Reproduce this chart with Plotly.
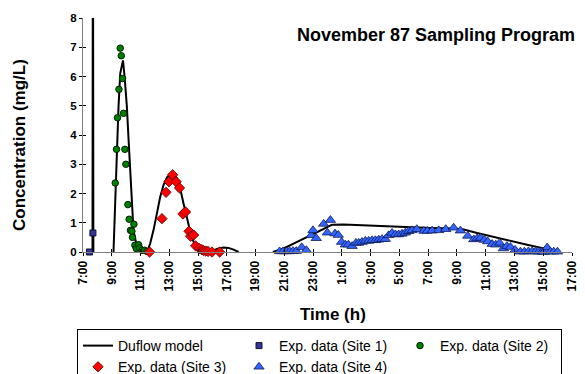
import plotly.graph_objects as go

# Time is given in hours from midnight of the first sampling day (25 = 1:00 next day)
model_h = [7.66, 7.69, 7.72, None,
           9.12, 9.24, 9.36, 9.47, 9.59, 9.78, 9.89, 10.05, 10.17, 10.28, 10.40,
           10.51, 10.70, 10.93, 11.21, 11.45, 11.67, 11.90, 12.14, 12.37, 12.60,
           12.84, 13.07, 13.30, 13.53, 13.76, 13.99, 14.23, 14.46, 14.69, 14.92,
           15.27, 15.62, 15.97, 16.31, 16.77, 17.12, 17.47, 17.82, None,
           20.20, 20.95, 21.64, 22.34, 23.03, 23.50, 23.97, 24.31, 25.12, 26.98,
           28.60, 30.46, 31.15, 32.77, 33.47, 34.40, 35.56, 36.72, 37.88, 38.81,
           39.50, 40.08]
model_c = [0.0, 14.0, 0.0, None,
           0.0, 1.77, 3.49, 4.97, 6.11, 6.55, 6.00, 4.97, 3.83, 2.69, 1.54,
           0.74, 0.29, 0.08, 0.0, 0.0, 0.29, 0.74, 1.32, 1.89, 2.29,
           2.55, 2.66, 2.66, 2.52, 2.17, 1.66, 1.14, 0.69, 0.34, 0.15,
           0.06, 0.03, 0.03, 0.10, 0.15, 0.14, 0.08, 0.0, None,
           0.0, 0.12, 0.29, 0.46, 0.63, 0.74, 0.86, 0.93, 0.94, 0.90,
           0.86, 0.84, 0.82, 0.80, 0.77, 0.65, 0.51, 0.38, 0.25, 0.15,
           0.08, 0.0]

site1_h = [7.45, 7.69]
site1_c = [0.0, 0.65]

site2_h = [9.24, 9.33, 9.40, 9.50, 9.59, 9.66, 9.75, 9.82, 9.91, 9.98, 10.12,
           10.21, 10.30, 10.40, 10.44, 10.54, 10.61, 10.70, 10.86, 10.93, 11.10,
           11.28, 11.45]
site2_c = [2.36, 3.51, 4.59, 5.56, 6.97, 6.71, 5.93, 4.74, 3.51, 3.00, 1.62,
           1.12, 0.74, 0.71, 0.50, 0.95, 0.23, 0.12, 0.25, 0.14, 0.06,
           0.06, 0.02]

site3_h = [11.63, 12.49, 12.77, 12.98, 13.23, 13.48, 13.71, 13.95, 14.13, 14.37,
           14.48, 14.69, 14.83, 15.10, 15.26, 15.38, 15.54, 15.69, 15.97, 16.50]
site3_c = [0.0, 1.14, 2.04, 2.40, 2.64, 2.40, 2.19, 1.30, 1.37, 0.71,
           0.54, 0.58, 0.21, 0.12, 0.08, 0.05, 0.03, 0.02, 0.0, 0.0]

site4_h = [20.67, 20.91, 21.14, 21.37, 21.60, 21.83, 22.21, 22.53, 22.87, 22.99,
           23.22, 23.73, 23.99, 24.20, 24.52, 24.75, 24.98, 25.24, 25.45, 25.71,
           25.98, 26.17, 26.40, 26.63, 26.86, 27.10, 27.33, 27.56, 27.79, 28.02,
           28.25, 28.49, 28.72, 28.95, 29.18, 29.41, 29.64, 29.88, 30.21, 30.70,
           30.94, 31.27, 31.73, 32.22, 32.77, 33.24, 33.75, 34.17, 34.40, 34.63,
           34.91, 35.14, 35.45, 35.70, 35.97, 36.23, 36.47, 36.72, 37.05, 37.41,
           37.69, 37.97, 38.23, 38.46, 38.69, 38.92, 39.03, 39.27, 39.50, 39.73,
           39.99]
site4_c = [0.02, 0.02, 0.02, 0.02, 0.03, 0.03, 0.16, 0.06, 0.57, 0.74,
           0.47, 0.96, 0.66, 1.09, 0.63, 0.58, 0.34, 0.25, 0.25, 0.20,
           0.31, 0.31, 0.34, 0.38, 0.38, 0.40, 0.40, 0.42, 0.44, 0.44,
           0.57, 0.65, 0.60, 0.60, 0.62, 0.66, 0.71, 0.74, 0.78, 0.72,
           0.72, 0.73, 0.74, 0.78, 0.83, 0.73, 0.55, 0.43, 0.46, 0.48,
           0.41, 0.36, 0.27, 0.25, 0.31, 0.12, 0.20, 0.17, 0.07, 0.01,
           0.01, 0.02, 0.02, 0.01, 0.01, 0.01, 0.0, 0.15, 0.01, 0.01,
           0.01]

tick_hours = [7, 9, 11, 13, 15, 17, 19, 21, 23, 25, 27, 29, 31, 33, 35, 37, 39, 41]
tick_labels = ["7:00", "9:00", "11:00", "13:00", "15:00", "17:00", "19:00", "21:00",
               "23:00", "1:00", "3:00", "5:00", "7:00", "9:00", "11:00", "13:00",
               "15:00", "17:00"]
conc_ticks = [0, 1, 2, 3, 4, 5, 6, 7, 8]

FONT = "Arial, 'Liberation Sans', sans-serif"
W, H = 585, 374
L, R, T, B = 83, 13, 18, 122
pw, ph = W - L - R, H - T - B


def px_to_paper(x, y):
    return (x - L) / pw, (H - B - y) / ph


fig = go.Figure()

fig.add_trace(go.Scatter(
    x=model_h, y=model_c, mode="lines", name="Duflow model",
    line=dict(color="black", width=2), connectgaps=False))
fig.add_trace(go.Scatter(
    x=site1_h, y=site1_c, mode="markers", name="Exp. data (Site 1)", cliponaxis=False,
    marker=dict(symbol="square", size=6, color="#333399", line=dict(color="#111133", width=1))))
fig.add_trace(go.Scatter(
    x=site2_h, y=site2_c, mode="markers", name="Exp. data (Site 2)", cliponaxis=False,
    marker=dict(symbol="circle", size=6.5, color="#008000", line=dict(color="#002200", width=1))))
fig.add_trace(go.Scatter(
    x=site3_h, y=site3_c, mode="markers", name="Exp. data (Site 3)", cliponaxis=False,
    marker=dict(symbol="diamond", size=8, color="#FF0000", line=dict(color="#550000", width=0.8))))
fig.add_trace(go.Scatter(
    x=site4_h, y=site4_c, mode="markers", name="Exp. data (Site 4)", cliponaxis=False,
    marker=dict(symbol="triangle-up", size=9, color="#3366FF", line=dict(color="#101a55", width=0.8))))

# invisible trace on the overlay axes that carry the inward half of the crossing ticks
fig.add_trace(go.Scatter(x=[7], y=[0], xaxis="x2", yaxis="y2", mode="markers",
                         marker=dict(opacity=0), showlegend=False, hoverinfo="skip"))

axis_common = dict(showgrid=False, zeroline=False, showline=True, linecolor="#808080",
                   linewidth=1, ticks="outside", ticklen=3, tickcolor="#000000", tickwidth=1)

lx, ly = px_to_paper(77, 329)

fig.update_layout(
    width=W, height=H,
    margin=dict(l=L, r=R, t=T, b=B, autoexpand=False),
    paper_bgcolor="white", plot_bgcolor="white",
    font=dict(family=FONT, color="black"),
    xaxis=dict(range=[7, 41], tickvals=tick_hours, ticktext=tick_labels, tickangle=-90,
               tickfont=dict(size=12, weight="bold"), **axis_common),
    yaxis=dict(range=[0, 8], tickvals=conc_ticks, tickfont=dict(size=11.5, weight="bold"),
               **axis_common),
    xaxis2=dict(range=[7, 41], overlaying="x", anchor="y2", side="bottom", tickvals=tick_hours,
                showticklabels=False, showgrid=False, zeroline=False, showline=False,
                ticks="inside", ticklen=3, tickcolor="#000000"),
    yaxis2=dict(range=[0, 8], overlaying="y", anchor="x2", side="left", tickvals=conc_ticks,
                showticklabels=False, showgrid=False, zeroline=False, showline=False,
                ticks="inside", ticklen=3, tickcolor="#000000"),
    showlegend=True,
    legend=dict(orientation="h", xref="paper", yref="paper",
                x=lx, y=ly, xanchor="left", yanchor="top",
                bordercolor="black", borderwidth=1, bgcolor="white",
                font=dict(size=14, family=FONT), entrywidthmode="pixels", entrywidth=116,
                traceorder="normal", itemwidth=30, tracegroupgap=0),
)

tx, ty = px_to_paper(577, 35)
fig.add_annotation(text="November 87 Sampling Program", x=tx, y=ty, xref="paper", yref="paper",
                   xanchor="right", yanchor="middle", showarrow=False,
                   font=dict(size=18, weight="bold", family=FONT))
yx, yy = px_to_paper(19, 145)
fig.add_annotation(text="Concentration (mg/L)", x=yx, y=yy, xref="paper", yref="paper",
                   textangle=-90, xanchor="center", yanchor="middle", showarrow=False,
                   font=dict(size=17, weight="bold", family=FONT))
xx, xy = px_to_paper(333, 314)
fig.add_annotation(text="Time (h)", x=xx, y=xy, xref="paper", yref="paper",
                   xanchor="center", yanchor="middle", showarrow=False,
                   font=dict(size=17, weight="bold", family=FONT))

fig.write_html("out.html")
